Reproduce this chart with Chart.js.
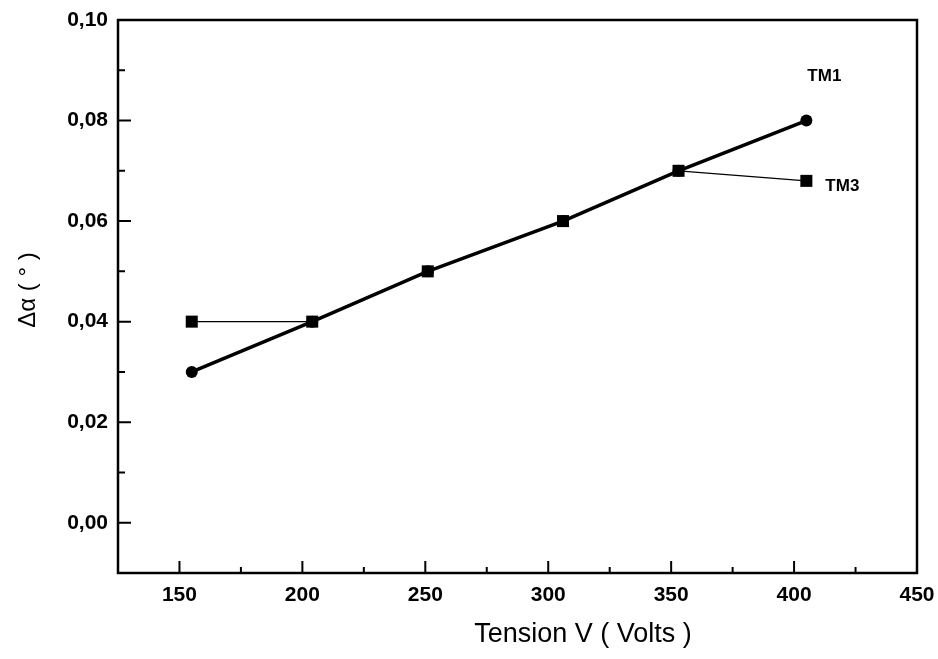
<!DOCTYPE html>
<html>
<head>
<meta charset="utf-8">
<script src="https://cdn.jsdelivr.net/npm/chart.js@4/dist/chart.umd.min.js"></script>
<style>
html,body{margin:0;padding:0;background:#fff;}
#wrap{width:938px;height:659px;position:relative;}
</style>
</head>
<body>
<div id="wrap"><canvas id="c" width="938" height="659"></canvas></div>
<script>
// Data
const tensionV = [155, 204, 251, 306, 353, 405];
const tm1Values = [0.03, 0.04, 0.05, 0.06, 0.07, 0.08];
const tm3Values = [0.04, 0.04, 0.05, 0.06, 0.07, 0.068];
const xTicks = [150, 200, 250, 300, 350, 400, 450];
const xMinorTicks = [175, 225, 275, 325, 375, 425];
const yTicks = [0.00, 0.02, 0.04, 0.06, 0.08, 0.10];
const yMinorTicks = [-0.01, 0.01, 0.03, 0.05, 0.07, 0.09];
const seriesNames = ['TM1', 'TM3'];
const xTitle = 'Tension V ( Volts )';
const yTitle = 'Δα ( ° )';

const FONT = "'Liberation Sans', Arial, sans-serif";

const toPoints = (xs, ys) => xs.map((x, i) => ({x: x, y: ys[i]}));

const framePlugin = {
  id: 'frame',
  afterDraw(chart) {
    const ctx = chart.ctx;
    const a = chart.chartArea;
    const xs = chart.scales.x, ys = chart.scales.y;
    ctx.save();
    ctx.strokeStyle = '#000';
    // ticks pointing inward
    ctx.lineWidth = 2;
    ctx.beginPath();
    xTicks.forEach(v => { const p = xs.getPixelForValue(v); ctx.moveTo(p, a.bottom); ctx.lineTo(p, a.bottom - 12); });
    xMinorTicks.forEach(v => { const p = xs.getPixelForValue(v); ctx.moveTo(p, a.bottom); ctx.lineTo(p, a.bottom - 6); });
    yTicks.forEach(v => { const p = ys.getPixelForValue(v); ctx.moveTo(a.left, p); ctx.lineTo(a.left + 13, p); });
    yMinorTicks.forEach(v => { const p = ys.getPixelForValue(v); ctx.moveTo(a.left, p); ctx.lineTo(a.left + 7, p); });
    ctx.stroke();
    // frame
    ctx.lineWidth = 2.5;
    ctx.strokeRect(a.left, a.top, a.right - a.left, a.bottom - a.top);
    // series labels
    ctx.fillStyle = '#000';
    ctx.font = "bold 17px " + FONT;
    ctx.textBaseline = 'middle';
    ctx.textAlign = 'left';
    const n = tensionV.length - 1;
    ctx.fillText(seriesNames[0], xs.getPixelForValue(tensionV[n]) + 1, ys.getPixelForValue(tm1Values[n]) - 44);
    ctx.fillText(seriesNames[1], xs.getPixelForValue(tensionV[n]) + 19, ys.getPixelForValue(tm3Values[n]) + 5);
    // axis titles
    ctx.font = "27px " + FONT;
    ctx.textAlign = 'center';
    ctx.fillText(xTitle, 583, 635);
    ctx.save();
    ctx.translate(28, 290);
    ctx.rotate(-Math.PI / 2);
    ctx.font = "24px " + FONT;
    ctx.fillText(yTitle, 0, 0);
    ctx.restore();
    ctx.restore();
  }
};

new Chart(document.getElementById('c'), {
  type: 'scatter',
  data: {
    datasets: [
      {
        label: seriesNames[1],
        data: toPoints(tensionV, tm3Values),
        showLine: true,
        borderColor: '#000',
        backgroundColor: '#000',
        borderWidth: 1.2,
        pointStyle: 'rect',
        pointRadius: 8.5,
        pointHoverRadius: 8.5,
        pointBorderWidth: 0
      },
      {
        label: seriesNames[0],
        data: toPoints(tensionV, tm1Values),
        showLine: true,
        borderColor: '#000',
        backgroundColor: '#000',
        borderWidth: 3.5,
        pointStyle: 'circle',
        pointRadius: 6,
        pointHoverRadius: 6,
        pointBorderWidth: 0
      }
    ]
  },
  options: {
    responsive: false,
    animation: false,
    events: [],
    layout: { padding: { top: 20, right: 21, left: 0, bottom: 0 } },
    plugins: { legend: { display: false }, tooltip: { enabled: false } },
    scales: {
      x: {
        type: 'linear',
        min: 125,
        max: 450,
        grid: { display: false, drawTicks: false },
        border: { display: false },
        afterBuildTicks: s => { s.ticks = xTicks.map(v => ({value: v})); },
        afterFit: s => { s.height = 86; s.paddingLeft = 0; s.paddingRight = 0; },
        ticks: {
          padding: 10,
          color: '#000',
          font: { family: FONT, size: 21, weight: 'bold' },
          callback: v => String(v)
        }
      },
      y: {
        type: 'linear',
        min: -0.01,
        max: 0.10,
        grid: { display: false, drawTicks: false },
        border: { display: false },
        afterBuildTicks: s => { s.ticks = yTicks.map(v => ({value: v})); },
        afterFit: s => { s.width = 118; s.paddingTop = 0; s.paddingBottom = 0; },
        ticks: {
          padding: 10,
          color: '#000',
          font: { family: FONT, size: 21, weight: 'bold' },
          callback: v => v.toFixed(2).replace('.', ',')
        }
      }
    }
  },
  plugins: [framePlugin]
});
</script>
</body>
</html>
